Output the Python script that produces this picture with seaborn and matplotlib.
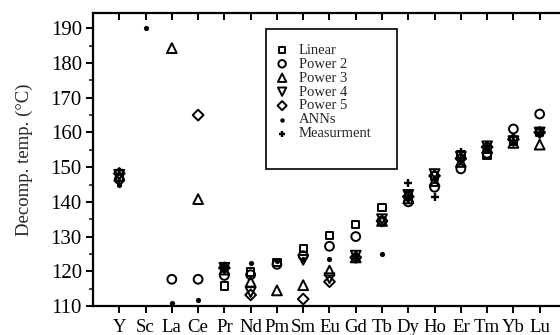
import numpy as np
import pandas as pd
import matplotlib
matplotlib.use("Agg")
import matplotlib.pyplot as plt
from matplotlib.patches import Rectangle
import seaborn as sns

nan = np.nan
elements = ["Y", "Sc", "La", "Ce", "Pr", "Nd", "Pm", "Sm", "Eu", "Gd",
            "Tb", "Dy", "Ho", "Er", "Tm", "Yb", "Lu"]

linear = [147.0, nan, nan, nan, 115.8, 119.8, 122.5, 126.5, 130.3, 133.5,
          138.3, 142.0, 147.5, 153.5, 153.5, 157.5, 160.0]
power2 = [146.5, nan, 117.7, 117.7, 118.8, 119.0, 122.0, 124.5, 127.2, 130.0,
          134.5, 140.0, 144.2, 149.5, 154.0, 161.0, 165.3]
power3 = [147.5, nan, 184.3, 140.8, 120.5, 117.0, 114.5, 116.0, 120.2, 124.0,
          134.5, 141.0, 146.0, 151.5, 155.5, 157.0, 156.5]
power4 = [147.8, nan, nan, nan, 121.0, 114.0, nan, 123.3, 118.0, 124.5,
          135.0, 142.0, 148.0, 153.0, 156.0, 157.5, 160.0]
power5 = [148.2, nan, nan, 165.0, 121.0, 113.2, nan, 112.0, 117.0, 124.0,
          134.5, 141.5, 147.5, 152.5, 155.8, 158.0, 160.0]
anns = [145.0, 190.0, 110.8, 111.8, 121.3, 122.5, 123.0, 123.5, 123.5, 124.0,
        125.0, 141.0, 146.5, 152.5, 155.5, 157.0, 160.0]
measurement = [146.0, nan, nan, nan, 121.0, nan, nan, nan, nan, 124.5,
               nan, 145.5, 141.5, 154.5, 156.0, 157.5, 159.5]

series = [
    ("Linear", linear, dict(marker="s", s=28, facecolor="none", edgecolor="black", linewidth=1.4)),
    ("Power 2", power2, dict(marker="o", s=40, facecolor="none", edgecolor="black", linewidth=1.4)),
    ("Power 3", power3, dict(marker="^", s=50, facecolor="none", edgecolor="black", linewidth=1.4)),
    ("Power 4", power4, dict(marker="v", s=50, facecolor="none", edgecolor="black", linewidth=1.4)),
    ("Power 5", power5, dict(marker="D", s=30, facecolor="none", edgecolor="black", linewidth=1.4)),
    ("ANNs", anns, dict(marker="o", s=14, color="black", linewidth=0)),
    ("Measurment", measurement, dict(marker="+", s=32, color="black", linewidth=1.7)),
]

sns.set_style("ticks")
plt.rcParams["font.family"] = ["Liberation Serif", "DejaVu Serif"]

fig = plt.figure(figsize=(5.6, 3.35), dpi=100)
# left spine ~93 px, right spine just past the image edge, bottom 306 px, top 12.7 px
ax = fig.add_axes([93 / 560, 1 - 306 / 335, 469 / 560, 293.3 / 335])

xpos = np.arange(len(elements))
for name, vals, kw in series:
    df = pd.DataFrame({"x": xpos, "y": vals}).dropna()
    sns.scatterplot(data=df, x="x", y="y", ax=ax, label=name, zorder=3, **kw)

ax.set_xlim(-1, 16.85)
ax.set_ylim(110, 194.5)
ax.set_xticks(xpos)
ax.set_xticklabels(elements)
ax.set_yticks(np.arange(110, 191, 10))
ax.set_yticks(np.arange(115, 195, 10), minor=True)
ax.set_xlabel("")
ax.set_ylabel("Decomp. temp. (°C)", fontsize=13.5)
ax.yaxis.set_label_coords(-0.127, 0.5)

for sp in ax.spines.values():
    sp.set_visible(True)
    sp.set_linewidth(1.6)
    sp.set_color("black")

ax.tick_params(axis="x", which="major", direction="out", length=5, width=1.4,
               top=True, labelsize=13.5, pad=4, colors="black")
ax.tick_params(axis="y", which="major", direction="out", length=5, width=1.4,
               right=True, labelsize=15, pad=3, colors="black")
ax.tick_params(axis="y", which="minor", direction="out", length=3, width=1.2,
               right=True)
ax.tick_params(axis="y", which="both", labelright=False)
# inward ticks on the top and right spines
for t in ax.xaxis.get_major_ticks():
    t.tick2line.set_marker(3)
    t.tick2line.set_markersize(5)
for t in ax.yaxis.get_major_ticks() + ax.yaxis.get_minor_ticks():
    t.tick2line.set_marker(4)

# legend frame drawn as a box, entries placed inside it
ax.add_patch(Rectangle((0.368, 0.467), 0.648 - 0.368, 0.9444 - 0.467,
                       transform=ax.transAxes, facecolor="white",
                       edgecolor="black", linewidth=1.2, zorder=4))
leg = ax.legend(loc="upper left", bbox_to_anchor=(0.383, 0.895), borderaxespad=0,
                frameon=False, fontsize=10.5, borderpad=0,
                handletextpad=0.5, labelspacing=0.05,
                handlelength=1.3, markerscale=0.85)
leg.set_zorder(5)

fig.savefig("out.png", dpi=100)
